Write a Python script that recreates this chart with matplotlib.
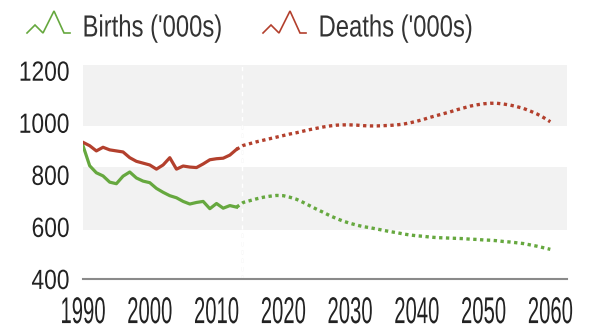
import numpy as np
from matplotlib import pyplot as plt
from matplotlib.lines import Line2D
from matplotlib.patheffects import AbstractPathEffect
from matplotlib.transforms import Affine2D

# Germany, births and deaths in thousands: registered up to 2013, projected after
years_hist = list(range(1990, 2014))
births_hist = [912, 835, 808, 796, 772, 766, 795, 811, 788, 776, 770, 748,
               733, 720, 712, 698, 688, 694, 698, 670, 690, 672, 682, 676]
deaths_hist = [925, 912, 892, 906, 896, 892, 888, 866, 852, 845, 838, 822,
               838, 866, 822, 834, 830, 828, 842, 858, 862, 864, 876, 898]

years_proj = list(range(2014, 2061))
births_proj = [694, 701, 708, 714, 718, 721, 720, 714, 706, 694,
               681, 668, 656, 643, 632, 622, 614, 607, 601, 597,
               592, 587, 582, 578, 573, 569, 566, 564, 561, 559,
               558, 557, 556, 555, 553, 552, 550, 549, 547, 544,
               542, 539, 536, 531, 526, 520, 514]
deaths_proj = [913, 920, 927, 933, 939, 945, 951, 957, 962, 968,
               974, 979, 984, 988, 991, 992, 992, 991, 989, 988,
               988, 989, 990, 992, 995, 1000, 1006, 1013, 1021, 1028,
               1035, 1042, 1050, 1057, 1064, 1069, 1073, 1075, 1075, 1072,
               1068, 1062, 1055, 1045, 1034, 1020, 1004]

labels = ["Births ('000s)", "Deaths ('000s)"]
x_ticks = list(range(1990, 2061, 10))
y_ticks = list(range(400, 1201, 200))

GREEN = '#66a83f'
RED = '#b3402d'
FONT = ['Liberation Sans', 'DejaVu Sans']
W, H = 592, 332


class Stretch(AbstractPathEffect):
    """Scale the glyphs of a text, keeping one edge (or the centre) in place."""

    def __init__(self, sx, sy=1.0, anchor='center'):
        super().__init__()
        self.sx, self.sy, self.anchor = sx, sy, anchor

    def draw_path(self, renderer, gc, tpath, affine, rgbFace=None):
        box = tpath.get_extents(affine)
        cx = {'left': box.x0, 'right': box.x1}.get(self.anchor, box.x0 + box.width / 2)
        cy = box.y0 + box.height / 2
        squeeze = Affine2D().translate(-cx, -cy).scale(self.sx, self.sy).translate(cx, cy)
        renderer.draw_path(gc, tpath, affine + squeeze, rgbFace)


def legend_item(fig, x, color, text):
    # little zigzag icon followed by the label, x in pixels
    icon = [(0, 33), (8, 25), (16, 33), (27, 11), (37, 33), (43, 33)]
    xs = [(x + dx) / W for dx, _ in icon]
    ys = [1 - dy / H for _, dy in icon]
    fig.add_artist(Line2D(xs, ys, transform=fig.transFigure, color=color,
                          lw=1.2, solid_joinstyle='miter'))
    t = fig.text((x + 55) / W, 1 - 36.5 / H, text, fontsize=22,
                 color='#333333', va='baseline', ha='left')
    t.set_path_effects([Stretch(0.78, anchor='left')])


plt.rcParams['font.family'] = FONT

fig = plt.figure(figsize=(W / 100, H / 100), dpi=100)
ax = fig.add_axes([83 / W, 53 / H, 484 / W, 214 / H])

ax.set_xlim(1990, 2062.5)
ax.set_ylim(400, 1222)

# pale background bands
ax.axhspan(589, 829, color='#f2f2f2', lw=0, zorder=1)
ax.axhspan(987, 1222, color='#f2f2f2', lw=0, zorder=1)

# divider between registered and projected figures
ax.axvline(2013.8, color='#e2e2e2', lw=1, ls=(0, (3, 3)), zorder=0.5)
ax.axvline(2013.8, color='white', lw=1, ls=(0, (3, 3)), zorder=1.5)

ax.plot(years_hist, births_hist, color=GREEN, lw=2.3, zorder=3)
ax.plot(years_hist, deaths_hist, color=RED, lw=2.3, zorder=3)
ax.plot([years_hist[-1]] + years_proj, [births_hist[-1]] + births_proj,
        color=GREEN, lw=2.4, ls=(0, (1, 1.05)), dash_capstyle='butt', zorder=3)
ax.plot([years_hist[-1]] + years_proj, [deaths_hist[-1]] + deaths_proj,
        color=RED, lw=2.4, ls=(0, (1, 1.05)), dash_capstyle='butt', zorder=3)

for side in ['top', 'right', 'left']:
    ax.spines[side].set_visible(False)
ax.spines['bottom'].set_color('#8a8a8a')
ax.spines['bottom'].set_linewidth(1.5)
ax.spines['bottom'].set_zorder(2)

ax.set_xticks(x_ticks)
ax.set_yticks(y_ticks)
ax.tick_params(axis='x', length=0, pad=15, labelsize=20, labelcolor='#222222')
ax.tick_params(axis='y', length=0, pad=9.5, labelsize=20, labelcolor='#222222')
# narrow, tall year labels; narrow value labels
for lbl in ax.get_xticklabels():
    lbl.set_path_effects([Stretch(0.73, 1.34)])
for lbl in ax.get_yticklabels():
    lbl.set_path_effects([Stretch(0.82, anchor='right')])

legend_item(fig, 27, GREEN, labels[0])
legend_item(fig, 263, RED, labels[1])

fig.savefig('out.png', dpi=100)
